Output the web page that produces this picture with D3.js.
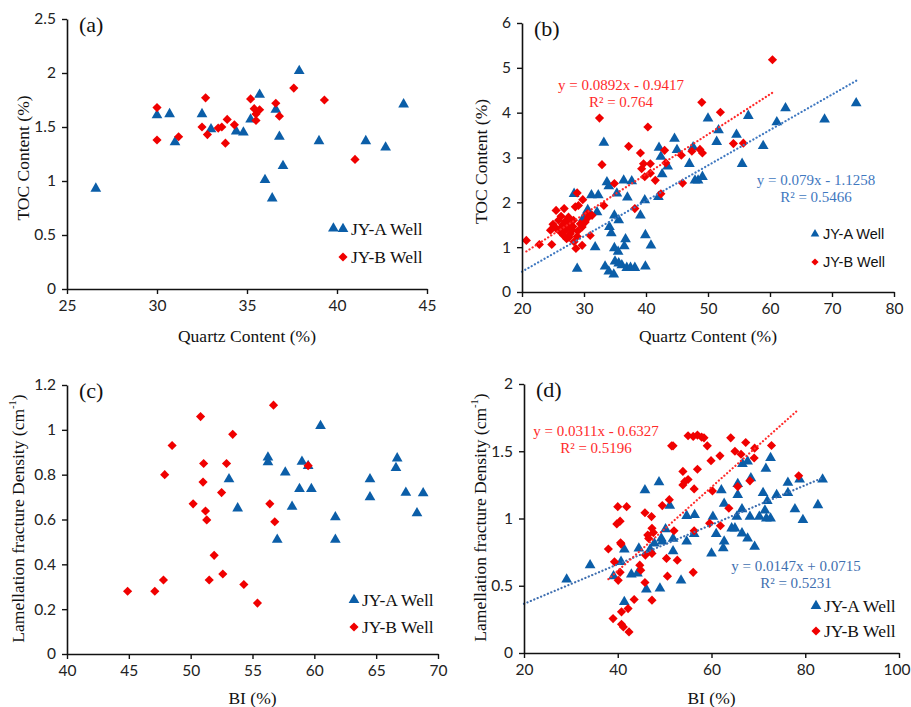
<!DOCTYPE html>
<html>
<head>
<meta charset="utf-8">
<script src="https://cdn.jsdelivr.net/npm/d3@7"></script>
<style>
  body { margin: 0; background: #fff; }
  svg { display: block; }
</style>
</head>
<body>
<div class="chart"></div>
<script>
// (a) TOC vs quartz
var aJYA = [[26.6,0.93],[30.0,1.61],[30.7,1.62],[31.0,1.36],[32.5,1.62],[33.0,1.48],[34.4,1.46],[34.8,1.45],
  [35.2,1.57],[35.7,1.80],[36.6,1.66],[36.8,1.41],[37.0,1.14],[36.0,1.01],[36.4,0.84],[37.9,2.02],
  [39.0,1.37],[41.6,1.37],[42.7,1.31],[43.7,1.71],[39.8,0.56]];
var aJYB = [[30.0,1.68],[30.0,1.38],[31.2,1.41],[32.5,1.50],[32.7,1.77],[32.8,1.43],[33.4,1.49],[33.6,1.50],
  [33.9,1.57],[33.8,1.35],[34.3,1.52],[35.2,1.76],[35.4,1.67],[35.5,1.62],[35.7,1.66],[35.5,1.56],
  [36.6,1.72],[36.8,1.60],[37.6,1.86],[39.3,1.75],[41.0,1.20]];

// (b) TOC vs quartz, both wells
var bJYA = [[28.9,0.52],[28.4,2.19],[31.8,1.0],[31.2,2.16],[32.3,2.16],[32.1,1.78],[30.6,1.83],[29.9,1.65],
  [33.2,3.33],[33.7,2.45],[34.0,2.36],[34.1,1.45],[34.4,1.31],[33.4,0.57],[34.0,0.46],[34.8,0.39],
  [34.9,1.71],[35.6,1.60],[34.9,0.98],[35.5,0.90],[35.0,0.68],[35.6,0.64],[36.1,0.60],[36.9,0.54],
  [37.5,0.54],[38.2,0.54],[36.5,1.02],[36.7,1.18],[36.4,2.49],[37.0,2.11],[37.7,2.47],[35.3,2.20],
  [39.1,1.71],[39.8,2.05],[39.9,1.27],[40.8,1.04],[39.9,0.57],[42.0,2.12],[42.1,3.22],[42.4,3.02],
  [42.6,2.63],[43.5,2.80],[44.6,3.42],[45.0,3.17],[47.0,2.86],[47.6,3.23],[47.9,2.49],[48.4,2.49],
  [49.1,2.57],[50.0,3.87],[51.7,3.61],[51.4,3.35],[54.6,3.51],[55.5,2.86],[56.5,3.93],[58.9,3.26],
  [61.1,3.79],[62.5,4.10],[68.8,3.85],[73.9,4.21]];
var bJYB = [[20.7,1.15],[22.8,1.06],[24.8,1.06],[24.6,1.38],[25.0,1.51],[25.5,1.82],[25.9,1.60],[26.3,1.69],
  [26.8,1.86],[26.4,1.45],[27.0,1.38],[26.7,1.26],[27.2,1.19],[27.5,1.52],[27.8,1.30],[28.1,1.38],
  [28.3,1.60],[27.5,1.67],[28.6,1.90],[28.9,2.21],[29.1,1.93],[28.7,0.97],[29.7,1.04],[28.9,1.24],
  [29.8,2.06],[29.7,1.45],[30.2,1.56],[30.7,1.67],[30.6,1.75],[31.0,1.26],[31.3,1.71],[33.2,1.93],
  [32.5,3.88],[32.9,2.84],[34.9,2.42],[37.2,3.25],[38.2,1.86],[39.1,3.10],[39.3,2.75],[39.6,2.86],
  [39.8,2.57],[40.3,3.68],[40.7,2.86],[40.7,2.65],[41.5,2.49],[42.4,2.19],[43.0,3.16],[43.2,2.88],
  [45.7,3.05],[45.9,2.43],[47.4,3.14],[48.7,3.18],[49.1,3.10],[49.0,4.23],[52.0,4.01],[54.1,3.31],
  [55.7,3.32],[60.4,5.18],[27.6,1.22],[28.2,1.46],[26.1,1.35],[29.4,1.52],[25.5,1.42],[27.0,1.58],
  [28.4,1.12],[27.3,1.42],[26.6,1.50],[29.0,1.36]];

// (c) lamellation fracture density vs BI
var cJYA = [[53.1,0.78],[53.8,0.65],[56.25,0.877],[56.25,0.856],[57.0,0.51],[57.65,0.81],[58.2,0.657],
  [58.8,0.736],[59.0,0.858],[59.5,0.839],[59.76,0.736],[60.5,1.017],[61.7,0.61],[61.7,0.51],[64.5,0.78],
  [64.5,0.70],[66.6,0.83],[66.7,0.873],[67.4,0.72],[68.3,0.628],[68.8,0.717]];
var cJYB = [[44.9,0.28],[47.1,0.28],[47.8,0.33],[47.9,0.80],[48.5,0.93],[50.2,0.67],[50.8,1.059],[51.0,0.767],
  [51.05,0.85],[51.2,0.638],[51.3,0.598],[51.5,0.33],[51.9,0.44],[52.5,0.72],[52.6,0.357],[52.9,0.85],
  [53.4,0.98],[54.3,0.31],[55.4,0.227],[56.4,0.67],[56.7,1.11],[56.8,0.59],[59.5,0.84]];

// (d) lamellation fracture density vs BI, both wells
var dJYA = [[29.1,0.547],[34.1,0.653],[39.1,0.571],[40.7,0.678],[41.4,0.77],[41.4,0.38],[42.9,0.584],
  [44.2,0.591],[44.5,0.778],[45.8,1.21],[46.1,0.472],[46.9,0.77],[47.8,0.815],[48.8,1.27],[49.0,0.48],
  [49.3,0.852],[49.5,0.83],[50.2,0.92],[51.1,1.096],[51.8,0.85],[51.8,0.757],[53.5,0.54],[54.7,1.02],
  [54.7,0.83],[56.4,1.026],[56.3,0.885],[60.0,0.74],[60.3,1.014],[61.0,0.885],[62.1,1.21],[62.7,1.11],
  [62.7,0.83],[62.5,0.78],[64.3,0.927],[65.0,0.927],[65.4,1.014],[65.6,1.175],[65.6,1.257],[66.5,1.07],
  [66.5,0.89],[66.6,1.406],[67.7,1.424],[67.7,0.852],[68.2,1.014],[68.4,1.30],[69.2,0.79],[70.2,1.014],
  [71.0,1.19],[71.4,1.06],[71.6,1.37],[71.9,1.13],[71.7,1.00],[72.6,1.00],[72.6,1.45],[73.9,1.175],
  [76.3,1.267],[76.3,1.19],[77.8,1.07],[78.8,1.29],[79.5,0.99],[82.7,1.10],[83.7,1.29]];
var dJYB = [[39.0,0.256],[38.0,0.773],[39.3,0.678],[40.0,1.088],[39.8,0.96],[40.5,0.98],[40.1,0.54],
  [40.6,0.82],[40.7,0.81],[40.5,0.60],[40.8,0.306],[40.8,0.214],[41.2,0.194],[41.9,1.088],[42.2,0.33],
  [42.4,0.157],[43.5,0.398],[44.7,0.653],[44.9,0.616],[45.8,1.043],[45.8,0.524],[45.9,0.728],[46.4,0.877],
  [46.6,0.852],[47.2,1.014],[47.3,0.927],[47.6,0.895],[47.3,0.74],[47.3,0.393],[49.5,1.096],[50.4,0.703],
  [50.6,0.571],[51.0,1.14],[51.5,1.54],[51.8,1.54],[52.0,0.909],[52.7,0.69],[53.9,1.35],[54.3,1.275],
  [55.0,1.29],[53.9,1.25],[55.0,1.615],[56.1,0.60],[56.3,1.22],[56.3,0.909],[57.0,1.366],[56.1,1.61],
  [57.0,1.62],[57.9,1.605],[58.4,1.60],[59.1,1.54],[59.9,1.43],[60.2,1.205],[59.6,0.964],[61.8,1.466],
  [61.9,0.946],[63.7,1.076],[64.1,1.60],[65.0,1.50],[65.6,1.237],[66.3,1.478],[67.3,1.565],[68.2,1.28],
  [69.1,1.45],[69.2,1.523],[72.8,1.543],[78.6,1.317]];

// fitted lines: [slope, intercept, xStart, xEnd]
var bFitA = [0.079, -1.1258, 20, 74];
var bFitB = [0.0892, -0.9417, 20.7, 60.4];
var dFitA = [0.0147, 0.0715, 20, 83.7];
var dFitB = [0.0311, -0.6327, 38, 78.6];

var aXTicks = [25, 30, 35, 40, 45], aYTicks = [0, 0.5, 1, 1.5, 2, 2.5];
var bXTicks = [20, 30, 40, 50, 60, 70, 80], bYTicks = [0, 1, 2, 3, 4, 5, 6];
var cXTicks = [40, 45, 50, 55, 60, 65, 70], cYTicks = [0, 0.2, 0.4, 0.6, 0.8, 1, 1.2];
var dXTicks = [20, 40, 60, 80, 100], dYTicks = [0, 0.5, 1, 1.5, 2];

var blue = "#0b5ea8", red = "#f00000";
var serif = "'Liberation Serif', 'Times New Roman', serif";
var sans = "'Liberation Sans', Arial, sans-serif";
var tickFont = "Lato, 'Open Sans', sans-serif";

var svg = d3.select(".chart").append("svg")
    .attr("width", 911)
    .attr("height", 707);

var panels = [
  {tag: "(a)", x: [67, 427], y: [289, 19], xd: [25, 45], yd: [0, 2.5], xt: aXTicks, yt: aYTicks,
   A: aJYA, B: aJYB, xTitle: "Quartz Content (%)", yTitle: "TOC", xTitleY: 342, yTitleX: 23,
   legend: [343, 229, 257], legFont: serif, legSize: 17.5},
  {tag: "(b)", x: [522, 894], y: [292, 23], xd: [20, 80], yd: [0, 6], xt: bXTicks, yt: bYTicks,
   A: bJYA, B: bJYB, xTitle: "Quartz Content (%)", yTitle: "TOC", xTitleY: 342, yTitleX: 481,
   legend: [815, 234, 262], legFont: sans, legSize: 14.5, small: true,
   fits: [
     {f: bFitA, c: "#3f78c0", t1: "y = 0.079x - 1.1258", t2: "R\u00b2 = 0.5466", tx: 816, ty: 185},
     {f: bFitB, c: "#ff2a2a", t1: "y = 0.0892x - 0.9417", t2: "R\u00b2 = 0.764", tx: 621, ty: 90}
   ]},
  {tag: "(c)", x: [67, 438], y: [654, 385], xd: [40, 70], yd: [0, 1.2], xt: cXTicks, yt: cYTicks,
   A: cJYA, B: cJYB, xTitle: "BI (%)", yTitle: "LFD", xTitleY: 704, yTitleX: 18,
   legend: [354, 600, 627], legFont: serif, legSize: 17.5},
  {tag: "(d)", x: [524, 899], y: [653, 384], xd: [20, 100], yd: [0, 2], xt: dXTicks, yt: dYTicks,
   A: dJYA, B: dJYB, xTitle: "BI (%)", yTitle: "LFD", xTitleY: 704, yTitleX: 480,
   legend: [816, 606, 631], legFont: serif, legSize: 17.5, clampLast: true,
   fits: [
     {f: dFitA, c: "#3f6fb0", t1: "y = 0.0147x + 0.0715", t2: "R\u00b2 = 0.5231", tx: 796, ty: 571},
     {f: dFitB, c: "#ff2a2a", t1: "y = 0.0311x - 0.6327", t2: "R\u00b2 = 0.5196", tx: 596, ty: 436}
   ]}
];

var tri = d3.symbol().type(d3.symbolTriangle).size(50);
var dia = d3.symbol().type(d3.symbolSquare).size(42);
var triS = d3.symbol().type(d3.symbolTriangle).size(32);
var diaS = d3.symbol().type(d3.symbolSquare).size(26);

panels.forEach(function(p) {
  var x = d3.scaleLinear().domain(p.xd).range(p.x);
  var y = d3.scaleLinear().domain(p.yd).range(p.y);
  var g = svg.append("g");

  // markers
  g.selectAll("path.a").data(p.A).enter().append("path")
      .attr("class", "a")
      .attr("d", tri)
      .attr("fill", blue)
      .attr("transform", function(d) { return "translate(" + x(d[0]) + "," + y(d[1]) + ")"; });
  g.selectAll("path.b").data(p.B).enter().append("path")
      .attr("class", "b")
      .attr("d", dia)
      .attr("fill", red)
      .attr("transform", function(d) { return "translate(" + x(d[0]) + "," + y(d[1]) + ") rotate(45)"; });

  // trendlines + equations
  (p.fits || []).forEach(function(t) {
    var f = t.f;
    g.append("line")
        .attr("x1", x(f[2])).attr("y1", y(f[0] * f[2] + f[1]))
        .attr("x2", x(f[3])).attr("y2", y(f[0] * f[3] + f[1]))
        .attr("stroke", t.c)
        .attr("stroke-width", 2.2)
        .attr("stroke-linecap", "round")
        .attr("stroke-dasharray", "0.1,3.6");
    var tx = g.append("text")
        .attr("text-anchor", "middle")
        .attr("font-family", serif)
        .attr("font-size", 15)
        .attr("fill", t.c);
    tx.append("tspan").attr("x", t.tx).attr("y", t.ty).text(t.t1);
    tx.append("tspan").attr("x", t.tx).attr("y", t.ty + 16.5).text(t.t2);
  });

  // axes
  var xa = g.append("g")
      .attr("transform", "translate(0," + p.y[0] + ")")
      .call(d3.axisBottom(x).tickValues(p.xt).tickSize(5).tickSizeOuter(0).tickPadding(6).tickFormat(d3.format("~g")));
  var ya = g.append("g")
      .attr("transform", "translate(" + p.x[0] + ",0)")
      .call(d3.axisLeft(y).tickValues(p.yt).tickSize(5).tickSizeOuter(0).tickPadding(6).tickFormat(d3.format("~g")));
  [xa, ya].forEach(function(a) {
    a.select(".domain").attr("stroke", "#111").attr("stroke-width", 1.6);
    a.selectAll(".tick line").attr("stroke", "#111").attr("stroke-width", 1.4);
    a.selectAll("text").attr("font-family", tickFont).attr("font-size", 15.5).attr("fill", "#222");
  });
  // keep the last label of (d) inside the window
  if (p.clampLast) {
    xa.selectAll(".tick text").filter(function(d) { return d === p.xd[1]; })
        .attr("text-anchor", "end")
        .attr("dx", 910 - p.x[1]);
  }

  // panel tag
  g.append("text")
      .attr("x", p.x[0] + 12)
      .attr("y", p.y[1] + 13)
      .attr("font-family", serif)
      .attr("font-size", 22)
      .attr("fill", "#111")
      .text(p.tag);

  // axis titles
  g.append("text")
      .attr("x", (p.x[0] + p.x[1]) / 2)
      .attr("y", p.xTitleY)
      .attr("text-anchor", "middle")
      .attr("font-family", serif)
      .attr("font-size", 17.5)
      .attr("fill", "#111")
      .text(p.xTitle);

  var cy = (p.y[0] + p.y[1]) / 2 + (p.yTitle == "TOC" ? 4 : -1);
  var yt = g.append("text")
      .attr("transform", "translate(" + p.yTitleX + "," + cy + ") rotate(-90)")
      .attr("text-anchor", "middle")
      .attr("dy", "0.35em")
      .attr("font-family", serif)
      .attr("font-size", 17.5)
      .attr("fill", "#111");
  if (p.yTitle == "TOC") {
    yt.text("TOC Content (%)");
  } else {
    yt.append("tspan").text("Lamellation fracture Density (cm");
    yt.append("tspan").attr("font-size", 10.5).attr("dy", "-0.75em").text("-1");
    yt.append("tspan").attr("dy", "0.45em").text(")");
  }

  // legend
  var L = p.legend;
  g.append("path")
      .attr("d", p.small ? triS : tri)
      .attr("fill", blue)
      .attr("transform", "translate(" + L[0] + "," + L[1] + ")");
  g.append("path")
      .attr("d", p.small ? diaS : dia)
      .attr("fill", red)
      .attr("transform", "translate(" + L[0] + "," + L[2] + ") rotate(45)");
  ["JY-A Well", "JY-B Well"].forEach(function(s, i) {
    g.append("text")
        .attr("x", L[0] + 8)
        .attr("y", L[1 + i])
        .attr("dy", "0.35em")
        .attr("font-family", p.legFont)
        .attr("font-size", p.legSize)
        .attr("fill", "#111")
        .text(s);
  });
});
</script>
</body>
</html>
